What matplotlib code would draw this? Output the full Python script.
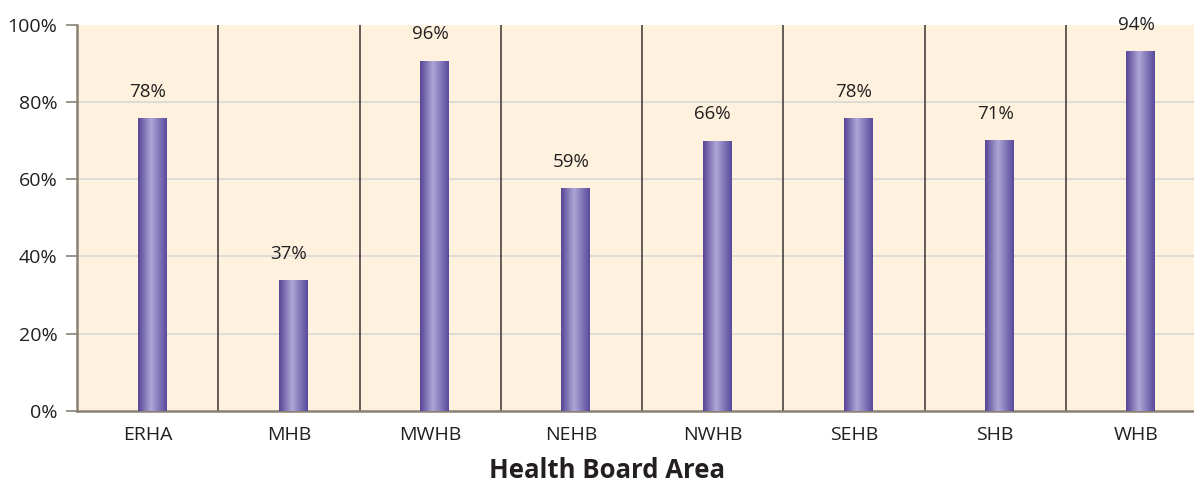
import numpy as np
import matplotlib
matplotlib.use('Agg')
import matplotlib.pyplot as plt
from matplotlib.colors import LinearSegmentedColormap

areas = ['ERHA', 'MHB', 'MWHB', 'NEHB', 'NWHB', 'SEHB', 'SHB', 'WHB']
bar_heights = [75.8, 33.9, 90.6, 57.7, 69.9, 75.8, 70.1, 93.1]
bar_labels = ['78%', '37%', '96%', '59%', '66%', '78%', '71%', '94%']
y_ticks = [0, 20, 40, 60, 80, 100]

plt.rcParams['font.family'] = ['Open Sans', 'DejaVu Sans']
text_col = '#231f20'
bg_col = '#fef2df'

fig = plt.figure(figsize=(11.94, 4.87), dpi=100)
ax = fig.add_axes([77 / 1194, 76 / 487, 1130 / 1194, 386.5 / 487])
ax.set_facecolor(bg_col)

x = np.arange(len(areas))
ax.set_xlim(-0.5, len(areas) - 0.5)
ax.set_ylim(0, 100)

# gradient for the bars
grad_cmap = LinearSegmentedColormap.from_list(
    'bar', [(0, '#574697'), (0.45, '#aea7d6'), (1, '#5a4a9c')])
grad = np.linspace(0, 1, 64).reshape(1, -1)

bars = ax.bar(x + 0.03, bar_heights, width=0.2, color='none', zorder=3)
for b in bars:
    x0, w, h = b.get_x(), b.get_width(), b.get_height()
    im = ax.imshow(grad, cmap=grad_cmap, aspect='auto',
                   extent=[x0, x0 + w, 0, h], zorder=3, interpolation='bicubic')
    im.set_clip_path(b)

for xi, h, lab in zip(x, bar_heights, bar_labels):
    ax.annotate(lab, (xi, h), xytext=(0, 19), textcoords='offset points',
                ha='center', va='center', fontsize=13.5, color=text_col, zorder=4)

# separators between categories
for xs in x[:-1] + 0.5:
    ax.axvline(xs, color='#3a3432', lw=1.1, zorder=2)

for yv in y_ticks[1:-1]:
    ax.axhline(yv, color='#d6d4d2', lw=1.1, zorder=1)

ax.set_yticks(y_ticks)
ax.set_yticklabels([f'{v}%' for v in y_ticks])
ax.set_xticks(x)
ax.set_xticklabels(areas)
ax.tick_params(axis='y', length=8, width=1.2, color='#8a8175', pad=6,
               labelsize=14, labelcolor=text_col)
ax.tick_params(axis='x', length=0, pad=11, labelsize=14, labelcolor=text_col)

for s in ['top', 'right']:
    ax.spines[s].set_visible(False)
ax.spines['left'].set_color('#8a8175')
ax.spines['left'].set_linewidth(1.8)
ax.spines['bottom'].set_color('#8a8175')
ax.spines['bottom'].set_linewidth(1.8)

fig.text(607 / 1194, 1 - 470 / 487, 'Health Board Area', ha='center', va='center',
         fontsize=18.5, fontweight='bold', color=text_col)

fig.savefig('out.png', dpi=100, facecolor='white')
